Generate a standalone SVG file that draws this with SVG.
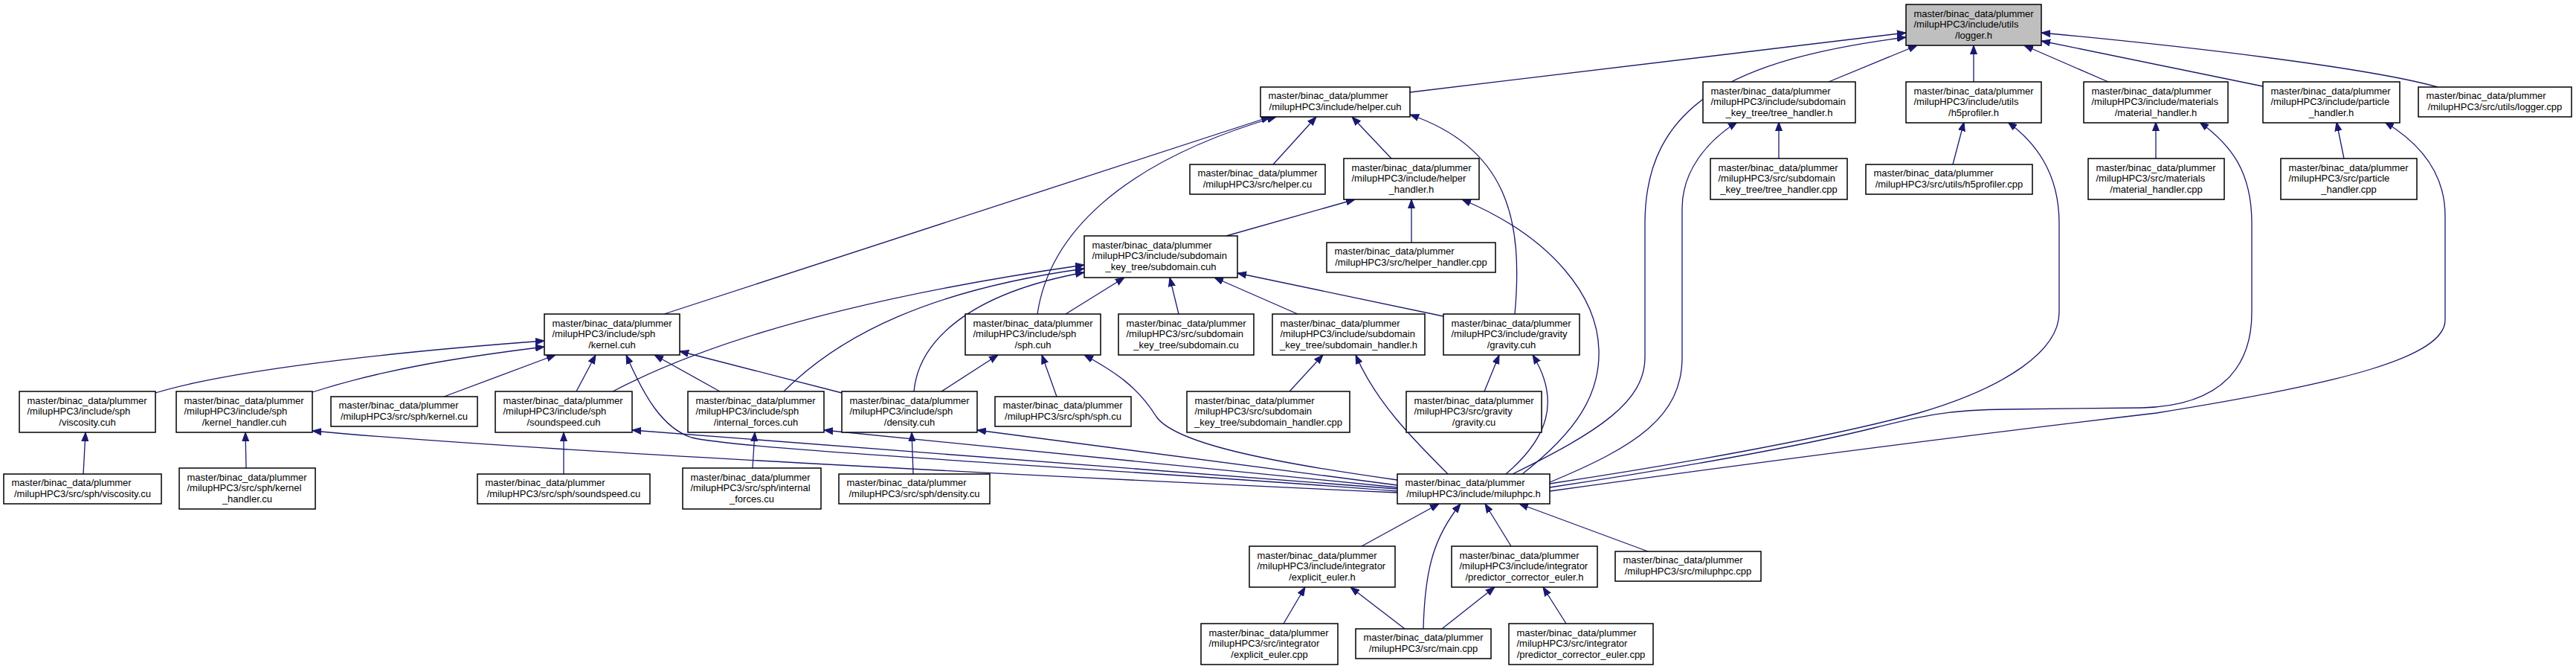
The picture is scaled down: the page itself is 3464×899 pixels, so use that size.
<svg xmlns="http://www.w3.org/2000/svg" width="3464" height="899" viewBox="0 0 3464 899">
<style>
.node rect{fill:#ffffff;stroke:#000000;stroke-width:1.5}
.node rect.root{fill:#bfbfbf}
.node text{font-family:"Liberation Sans",Arial,Helvetica,sans-serif;font-size:13px;fill:#000000}
.node text.c{text-anchor:middle}
#edges path{fill:none;stroke:#191970;stroke-width:1.3;marker-end:url(#arr)}
</style>
<defs>
<marker id="arr" markerUnits="userSpaceOnUse" markerWidth="12" markerHeight="10" refX="12" refY="5" orient="auto" viewBox="0 0 12 10">
<path d="M0,0.5 L12,5 L0,9.5 z" fill="#191970" stroke="#191970" stroke-width="1"/>
</marker>
</defs>
<rect x="0" y="0" width="3464" height="899" fill="#ffffff"/>
<g id="edges">
<path d="M1896,124 L2563,44"/>
<path d="M2034,637 C2150,580 2212,540 2212,480 L2212,300 C2212,140 2330,80 2563,50"/>
<path d="M2459,110 L2578,61"/>
<path d="M2654,110 L2654,61"/>
<path d="M2835,110 L2722,61"/>
<path d="M3043,116 L2745,55"/>
<path d="M3278,117 C3200,95 3000,68 2745,44"/>
<path d="M893,422 L1708,157"/>
<path d="M1395,422 C1410,320 1500,220 1716,157"/>
<path d="M1712,221 L1770,157"/>
<path d="M1871,213 L1818,157"/>
<path d="M2037,422 C2048,300 2030,200 1896,154"/>
<path d="M2047,637 C2120,580 2152,530 2150,470 C2148,400 2090,320 1966,268"/>
<path d="M1649,317 L1822,268"/>
<path d="M1898,326 L1898,268"/>
<path d="M2392,213 L2392,164"/>
<path d="M2084,648 C2200,600 2262,560 2262,480 L2262,280 C2262,230 2295,190 2336,164"/>
<path d="M2626,221 L2641,164"/>
<path d="M2084,650 C2250,625 2450,590 2580,555 C2700,520 2769,470 2769,420 L2769,300 C2769,230 2735,190 2700,164"/>
<path d="M2899,213 L2899,164"/>
<path d="M2084,655 C2250,630 2420,600 2520,575 C2580,560 2620,550 2700,550 L2880,548 C3000,545 3028,480 3028,420 L3028,300 C3028,230 3000,195 2958,164"/>
<path d="M3152,213 L3142,164"/>
<path d="M2084,660 C2300,630 2600,590 2900,555 C3150,515 3288,480 3288,430 L3288,290 C3288,230 3250,190 3207,164"/>
<path d="M1433,422 L1512,373"/>
<path d="M1585,422 L1573,373"/>
<path d="M1745,422 L1633,373"/>
<path d="M1941,425 L1664,367"/>
<path d="M824,526 C950,460 1150,400 1458,356"/>
<path d="M1054,526 C1130,450 1250,390 1458,361"/>
<path d="M1229,526 C1235,460 1300,395 1458,366"/>
<path d="M209,528 C300,500 500,475 732,458"/>
<path d="M420,527 C520,495 620,480 732,466"/>
<path d="M597,533 L747,477"/>
<path d="M775,526 L801,477"/>
<path d="M968,526 L880,477"/>
<path d="M1132,528 L914,472"/>
<path d="M1879,660 C1500,630 1000,605 930,588 C890,575 865,530 842,477"/>
<path d="M1266,526 L1342,477"/>
<path d="M1421,533 L1401,477"/>
<path d="M1879,645 C1700,620 1580,595 1555,560 C1530,520 1500,500 1458,477"/>
<path d="M1228,637 L1226,581"/>
<path d="M1879,652 L1314,578"/>
<path d="M1012,629 L1015,581"/>
<path d="M1879,655 L1108,578"/>
<path d="M758,637 L758,581"/>
<path d="M1879,657 L850,578"/>
<path d="M331,629 L330,581"/>
<path d="M1879,662 C1400,640 700,605 420,579"/>
<path d="M112,637 L115,581"/>
<path d="M1734,526 L1779,477"/>
<path d="M1947,637 C1900,590 1850,540 1823,477"/>
<path d="M1996,526 L2016,477"/>
<path d="M2025,637 C2080,590 2100,540 2061,477"/>
<path d="M1831,734 L1935,677"/>
<path d="M1914,845 C1916,760 1930,720 1964,677"/>
<path d="M2032,734 L1997,677"/>
<path d="M2216,741 L2043,677"/>
<path d="M1726,838 L1755,789"/>
<path d="M1889,845 L1816,789"/>
<path d="M1939,845 L2010,789"/>
<path d="M2106,838 L2075,789"/>
</g>
<g id="n_logger_h" class="node"><rect class="root" x="2563" y="6" width="182" height="55"/><text x="2573.5" y="22.5">master/binac_data/plummer</text><text x="2573.5" y="37">/milupHPC3/include/utils</text><text class="c" x="2654" y="51.5">/logger.h</text></g>
<g id="n_helper_cuh" class="node"><rect x="1695" y="117" width="201" height="40"/><text x="1705.5" y="133">master/binac_data/plummer</text><text class="c" x="1795.5" y="147.5">/milupHPC3/include/helper.cuh</text></g>
<g id="n_tree_handler_h" class="node"><rect x="2290" y="110" width="205" height="55"/><text x="2300.5" y="126.5">master/binac_data/plummer</text><text x="2300.5" y="141">/milupHPC3/include/subdomain</text><text class="c" x="2392.5" y="155.5">_key_tree/tree_handler.h</text></g>
<g id="n_h5profiler_h" class="node"><rect x="2563" y="110" width="182" height="55"/><text x="2573.5" y="126.5">master/binac_data/plummer</text><text x="2573.5" y="141">/milupHPC3/include/utils</text><text class="c" x="2654" y="155.5">/h5profiler.h</text></g>
<g id="n_material_handler_h" class="node"><rect x="2802" y="110" width="194" height="55"/><text x="2812.5" y="126.5">master/binac_data/plummer</text><text x="2812.5" y="141">/milupHPC3/include/materials</text><text class="c" x="2899" y="155.5">/material_handler.h</text></g>
<g id="n_particle_handler_h" class="node"><rect x="3043" y="110" width="184" height="55"/><text x="3053.5" y="126.5">master/binac_data/plummer</text><text x="3053.5" y="141">/milupHPC3/include/particle</text><text class="c" x="3135" y="155.5">_handler.h</text></g>
<g id="n_logger_cpp" class="node"><rect x="3252" y="117" width="206" height="40"/><text x="3262.5" y="133">master/binac_data/plummer</text><text class="c" x="3355" y="147.5">/milupHPC3/src/utils/logger.cpp</text></g>
<g id="n_helper_cu" class="node"><rect x="1600" y="221" width="182" height="40"/><text x="1610.5" y="237">master/binac_data/plummer</text><text class="c" x="1691" y="251.5">/milupHPC3/src/helper.cu</text></g>
<g id="n_helper_handler_h" class="node"><rect x="1807" y="213" width="182" height="55"/><text x="1817.5" y="229.5">master/binac_data/plummer</text><text x="1817.5" y="244">/milupHPC3/include/helper</text><text class="c" x="1898" y="258.5">_handler.h</text></g>
<g id="n_tree_handler_cpp" class="node"><rect x="2300" y="213" width="184" height="55"/><text x="2310.5" y="229.5">master/binac_data/plummer</text><text x="2310.5" y="244">/milupHPC3/src/subdomain</text><text class="c" x="2392" y="258.5">_key_tree/tree_handler.cpp</text></g>
<g id="n_h5profiler_cpp" class="node"><rect x="2509" y="221" width="224" height="40"/><text x="2519.5" y="237">master/binac_data/plummer</text><text class="c" x="2621" y="251.5">/milupHPC3/src/utils/h5profiler.cpp</text></g>
<g id="n_material_handler_cpp" class="node"><rect x="2808" y="213" width="183" height="55"/><text x="2818.5" y="229.5">master/binac_data/plummer</text><text x="2818.5" y="244">/milupHPC3/src/materials</text><text class="c" x="2899.5" y="258.5">/material_handler.cpp</text></g>
<g id="n_particle_handler_cpp" class="node"><rect x="3067" y="213" width="183" height="55"/><text x="3077.5" y="229.5">master/binac_data/plummer</text><text x="3077.5" y="244">/milupHPC3/src/particle</text><text class="c" x="3158.5" y="258.5">_handler.cpp</text></g>
<g id="n_subdomain_cuh" class="node"><rect x="1458" y="317" width="206" height="56"/><text x="1468.5" y="333.5">master/binac_data/plummer</text><text x="1468.5" y="348">/milupHPC3/include/subdomain</text><text class="c" x="1561" y="362.5">_key_tree/subdomain.cuh</text></g>
<g id="n_helper_handler_cpp" class="node"><rect x="1784" y="326" width="227" height="40"/><text x="1794.5" y="342">master/binac_data/plummer</text><text class="c" x="1897.5" y="356.5">/milupHPC3/src/helper_handler.cpp</text></g>
<g id="n_kernel_cuh" class="node"><rect x="732" y="422" width="182" height="55"/><text x="742.5" y="438.5">master/binac_data/plummer</text><text x="742.5" y="453">/milupHPC3/include/sph</text><text class="c" x="823" y="467.5">/kernel.cuh</text></g>
<g id="n_sph_cuh" class="node"><rect x="1298" y="422" width="182" height="55"/><text x="1308.5" y="438.5">master/binac_data/plummer</text><text x="1308.5" y="453">/milupHPC3/include/sph</text><text class="c" x="1389" y="467.5">/sph.cuh</text></g>
<g id="n_subdomain_cu" class="node"><rect x="1504" y="422" width="182" height="55"/><text x="1514.5" y="438.5">master/binac_data/plummer</text><text x="1514.5" y="453">/milupHPC3/src/subdomain</text><text class="c" x="1595" y="467.5">_key_tree/subdomain.cu</text></g>
<g id="n_subdomain_handler_h" class="node"><rect x="1711" y="422" width="205" height="55"/><text x="1721.5" y="438.5">master/binac_data/plummer</text><text x="1721.5" y="453">/milupHPC3/include/subdomain</text><text class="c" x="1813.5" y="467.5">_key_tree/subdomain_handler.h</text></g>
<g id="n_gravity_cuh" class="node"><rect x="1941" y="422" width="183" height="55"/><text x="1951.5" y="438.5">master/binac_data/plummer</text><text x="1951.5" y="453">/milupHPC3/include/gravity</text><text class="c" x="2032.5" y="467.5">/gravity.cuh</text></g>
<g id="n_viscosity_cuh" class="node"><rect x="26" y="526" width="183" height="55"/><text x="36.5" y="542.5">master/binac_data/plummer</text><text x="36.5" y="557">/milupHPC3/include/sph</text><text class="c" x="117.5" y="571.5">/viscosity.cuh</text></g>
<g id="n_kernel_handler_cuh" class="node"><rect x="237" y="526" width="183" height="55"/><text x="247.5" y="542.5">master/binac_data/plummer</text><text x="247.5" y="557">/milupHPC3/include/sph</text><text class="c" x="328.5" y="571.5">/kernel_handler.cuh</text></g>
<g id="n_kernel_cu" class="node"><rect x="445" y="533" width="197" height="40"/><text x="455.5" y="549">master/binac_data/plummer</text><text class="c" x="543.5" y="563.5">/milupHPC3/src/sph/kernel.cu</text></g>
<g id="n_soundspeed_cuh" class="node"><rect x="666" y="526" width="184" height="55"/><text x="676.5" y="542.5">master/binac_data/plummer</text><text x="676.5" y="557">/milupHPC3/include/sph</text><text class="c" x="758" y="571.5">/soundspeed.cuh</text></g>
<g id="n_internal_forces_cuh" class="node"><rect x="925" y="526" width="183" height="55"/><text x="935.5" y="542.5">master/binac_data/plummer</text><text x="935.5" y="557">/milupHPC3/include/sph</text><text class="c" x="1016.5" y="571.5">/internal_forces.cuh</text></g>
<g id="n_density_cuh" class="node"><rect x="1132" y="526" width="182" height="55"/><text x="1142.5" y="542.5">master/binac_data/plummer</text><text x="1142.5" y="557">/milupHPC3/include/sph</text><text class="c" x="1223" y="571.5">/density.cuh</text></g>
<g id="n_sph_cu" class="node"><rect x="1338" y="533" width="183" height="40"/><text x="1348.5" y="549">master/binac_data/plummer</text><text class="c" x="1429.5" y="563.5">/milupHPC3/src/sph/sph.cu</text></g>
<g id="n_subdomain_handler_cpp" class="node"><rect x="1596" y="526" width="219" height="55"/><text x="1606.5" y="542.5">master/binac_data/plummer</text><text x="1606.5" y="557">/milupHPC3/src/subdomain</text><text class="c" x="1705.5" y="571.5">_key_tree/subdomain_handler.cpp</text></g>
<g id="n_gravity_cu" class="node"><rect x="1891" y="526" width="182" height="55"/><text x="1901.5" y="542.5">master/binac_data/plummer</text><text x="1901.5" y="557">/milupHPC3/src/gravity</text><text class="c" x="1982" y="571.5">/gravity.cu</text></g>
<g id="n_viscosity_cu" class="node"><rect x="5" y="637" width="212" height="40"/><text x="15.5" y="653">master/binac_data/plummer</text><text class="c" x="111" y="667.5">/milupHPC3/src/sph/viscosity.cu</text></g>
<g id="n_kernel_handler_cu" class="node"><rect x="241" y="629" width="183" height="55"/><text x="251.5" y="645.5">master/binac_data/plummer</text><text x="251.5" y="660">/milupHPC3/src/sph/kernel</text><text class="c" x="332.5" y="674.5">_handler.cu</text></g>
<g id="n_soundspeed_cu" class="node"><rect x="642" y="637" width="232" height="40"/><text x="652.5" y="653">master/binac_data/plummer</text><text class="c" x="758" y="667.5">/milupHPC3/src/sph/soundspeed.cu</text></g>
<g id="n_internal_forces_cu" class="node"><rect x="918" y="629" width="186" height="55"/><text x="928.5" y="645.5">master/binac_data/plummer</text><text x="928.5" y="660">/milupHPC3/src/sph/internal</text><text class="c" x="1011" y="674.5">_forces.cu</text></g>
<g id="n_density_cu" class="node"><rect x="1128" y="637" width="203" height="40"/><text x="1138.5" y="653">master/binac_data/plummer</text><text class="c" x="1229.5" y="667.5">/milupHPC3/src/sph/density.cu</text></g>
<g id="n_miluphpc_h" class="node"><rect x="1879" y="637" width="205" height="40"/><text x="1889.5" y="653">master/binac_data/plummer</text><text class="c" x="1981.5" y="667.5">/milupHPC3/include/miluphpc.h</text></g>
<g id="n_explicit_euler_h" class="node"><rect x="1680" y="734" width="196" height="55"/><text x="1690.5" y="750.5">master/binac_data/plummer</text><text x="1690.5" y="765">/milupHPC3/include/integrator</text><text class="c" x="1778" y="779.5">/explicit_euler.h</text></g>
<g id="n_predictor_corrector_euler_h" class="node"><rect x="1952" y="734" width="196" height="55"/><text x="1962.5" y="750.5">master/binac_data/plummer</text><text x="1962.5" y="765">/milupHPC3/include/integrator</text><text class="c" x="2050" y="779.5">/predictor_corrector_euler.h</text></g>
<g id="n_miluphpc_cpp" class="node"><rect x="2172" y="741" width="196" height="40"/><text x="2182.5" y="757">master/binac_data/plummer</text><text class="c" x="2270" y="771.5">/milupHPC3/src/miluphpc.cpp</text></g>
<g id="n_explicit_euler_cpp" class="node"><rect x="1615" y="838" width="184" height="55"/><text x="1625.5" y="854.5">master/binac_data/plummer</text><text x="1625.5" y="869">/milupHPC3/src/integrator</text><text class="c" x="1707" y="883.5">/explicit_euler.cpp</text></g>
<g id="n_main_cpp" class="node"><rect x="1823" y="845" width="182" height="40"/><text x="1833.5" y="861">master/binac_data/plummer</text><text class="c" x="1914" y="875.5">/milupHPC3/src/main.cpp</text></g>
<g id="n_predictor_corrector_euler_cpp" class="node"><rect x="2029" y="838" width="194" height="55"/><text x="2039.5" y="854.5">master/binac_data/plummer</text><text x="2039.5" y="869">/milupHPC3/src/integrator</text><text class="c" x="2126" y="883.5">/predictor_corrector_euler.cpp</text></g>
</svg>
